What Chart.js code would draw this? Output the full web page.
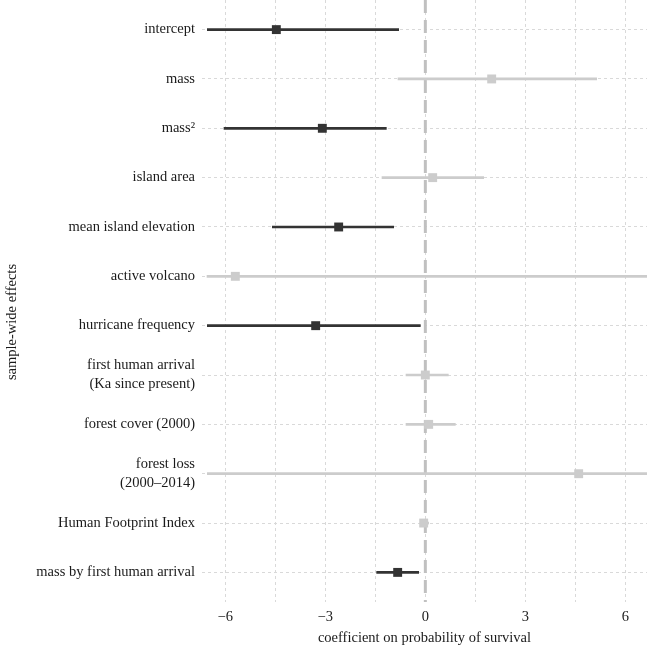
<!DOCTYPE html>
<html>
<head>
<meta charset="utf-8">
<script src="https://cdn.jsdelivr.net/npm/chart.js@4/dist/chart.umd.min.js"></script>
<style>
  html, body { margin: 0; padding: 0; background: #fff; }
  #wrap { width: 647px; height: 647px; position: relative; }
</style>
</head>
<body>
<div id="wrap"><canvas id="chartEfectos"></canvas></div>
<script>
// rows, top to bottom
const rowLabels = [
  "intercept",
  "mass",
  "mass\u00B2",
  "island area",
  "mean island elevation",
  "active volcano",
  "hurricane frequency",
  ["first human arrival", "(Ka since present)"],
  "forest cover (2000)",
  ["forest loss", "(2000\u20132014)"],
  "Human Footprint Index",
  "mass by first human arrival"
];
const estimate = [-4.47, 1.99, -3.09, 0.22, -2.60, -5.70, -3.29, 0.00, 0.10, 4.60, -0.05, -0.83];
const lower    = [-6.54, -0.82, -6.04, -1.30, -4.59, -6.55, -6.54, -0.58, -0.58, -6.54, -0.15, -1.46];
const upper    = [-0.80, 5.14, -1.17, 1.75, -0.95, 8.00, -0.15, 0.69, 0.90, 10.0, 0.10, -0.20];
const significant = [true, false, true, false, true, false, true, false, false, false, false, true];
const xTicks = [-6, -3, 0, 3, 6];

const DARK = "#333333";
const LIGHT = "#cccccc";
const FONT = "'Liberation Serif', 'DejaVu Serif', serif";

function colorFor(i){ return significant[i] ? DARK : LIGHT; }
function minus(v){ return v < 0 ? "\u2212" + Math.abs(v) : String(v); }

const rows = rowLabels.map((_, i) => i);

// y title drawn by hand so it sits where the original does
const yTitle = {
  id: "yTitle",
  afterDraw(chart){
    const ctx = chart.ctx;
    ctx.save();
    ctx.translate(12, 322);
    ctx.rotate(-Math.PI / 2);
    ctx.fillStyle = "#1a1a1a";
    ctx.font = "14.5px " + FONT;
    ctx.textAlign = "center";
    ctx.textBaseline = "middle";
    ctx.fillText("sample-wide effects", 0, 0);
    ctx.restore();
  }
};

const gridOpts = { color: "#d9d9d9", lineWidth: 1, drawTicks: false };

new Chart(document.getElementById("chartEfectos"), {
  type: "scatter",
  data: {
    datasets: [
      {
        // point estimates
        type: "scatter",
        order: 0,
        data: rows.map(i => ({ x: estimate[i], y: i })),
        pointStyle: "rect",
        pointRadius: 6.3,
        pointBackgroundColor: rows.map(colorFor),
        pointBorderWidth: 0
      },
      {
        // intervals
        type: "bar",
        order: 1,
        indexAxis: "y",
        grouped: false,
        data: rows.map(i => ({ x: [lower[i], upper[i]], y: i })),
        backgroundColor: rows.map(colorFor),
        borderWidth: 0,
        barThickness: 2
      },
      {
        // zero reference
        type: "line",
        order: 2,
        data: [{ x: 0, y: -0.6 }, { x: 0, y: 11.6 }],
        borderColor: "#c0c0c0",
        borderWidth: 3,
        borderDash: [13, 7],
        pointRadius: 0
      }
    ]
  },
  options: {
    responsive: true,
    maintainAspectRatio: false,
    animation: false,
    layout: { padding: 0, autoPadding: false },
    plugins: { legend: { display: false }, tooltip: { enabled: false } },
    scales: {
      x: {
        type: "linear",
        min: -6.7,
        max: 6.65,
        offset: false,
        grid: gridOpts,
        border: { display: false, dash: [3, 3] },
        ticks: {
          stepSize: 1.5,
          includeBounds: false,
          padding: 6,
          color: "#1a1a1a",
          font: { family: FONT, size: 14.5 },
          maxRotation: 0,
          callback: v => (xTicks.includes(v) ? minus(v) : "")
        },
        title: {
          display: true,
          text: "coefficient on probability of survival",
          color: "#1a1a1a",
          font: { family: FONT, size: 14.5 },
          padding: { top: 0, bottom: 0 }
        },
        afterFit: s => { s.height = 45; s.paddingLeft = 0; s.paddingRight = 0; }
      },
      y: {
        type: "linear",
        reverse: true,
        min: -0.6,
        max: 11.6,
        offset: false,
        grid: Object.assign({ offset: false }, gridOpts),
        border: { display: false, dash: [3, 3] },
        ticks: {
          stepSize: 1,
          includeBounds: false,
          autoSkip: false,
          padding: 7,
          color: "#1a1a1a",
          font: { family: FONT, size: 14.5, lineHeight: 1.3 },
          callback: v => (Number.isInteger(v) && rowLabels[v] !== undefined ? rowLabels[v] : "")
        },
        afterFit: s => { s.width = 202; s.paddingTop = 0; s.paddingBottom = 0; }
      }
    }
  },
  plugins: [yTitle]
});
</script>
</body>
</html>
